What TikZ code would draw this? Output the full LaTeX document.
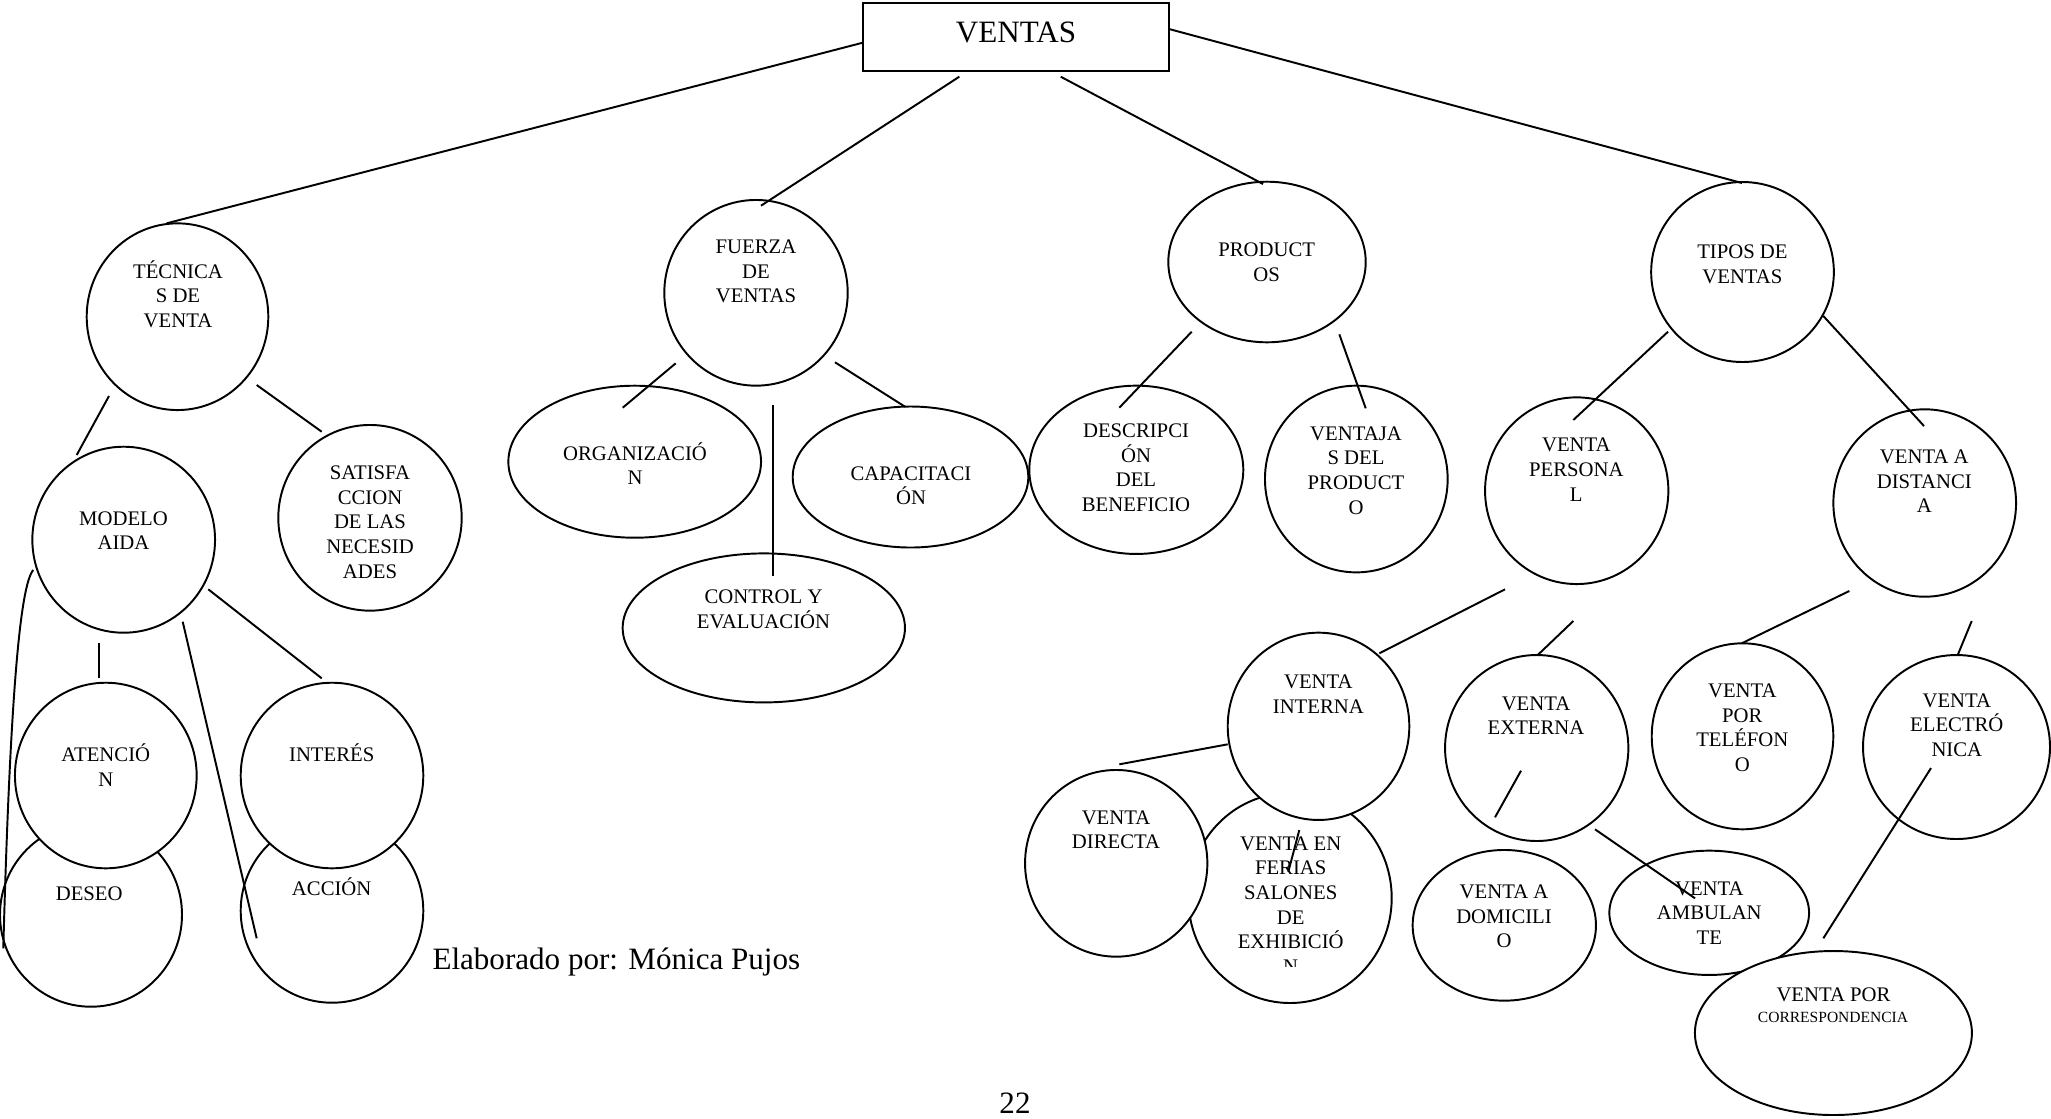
\documentclass[tikz,border=0pt]{standalone}
\usepackage{fontspec}
\setmainfont{Liberation Serif}
\usetikzlibrary{shapes.geometric}
\def\px{0.38615pt}
\newcommand\lns[1]{\vtop{\baselineskip=9.54pt\lineskiplimit=-\maxdimen\halign{\hfil##\hfil\cr#1\crcr}}}
\newcommand\shp[5]{\node[bub, minimum width=#4*\px, minimum height=#5*\px] (#1) at (#2,#3) {};}
\newcommand\tx[4]{\node[txt, anchor=base] (#1) at (#2,#3) {\lns{#4}};}
\begin{document}
\begin{tikzpicture}[x=\px, y=-\px,
  bub/.style={draw, ellipse, line width=0.75pt, inner sep=0pt, fill=white},
  txt/.style={inner sep=0pt, font=\fontsize{8}{9.54}\selectfont},
  small/.style={inner sep=0pt, font=\fontsize{6}{7}\selectfont},
  big/.style={inner sep=0pt, font=\fontsize{12}{14}\selectfont},
  link/.style={line width=0.75pt}]
\useasboundingbox (0,0) rectangle (2051,1118);

% ---------- shapes ----------
\node[draw, line width=0.75pt, inner sep=0pt, fill=white, minimum width=306.3*\px, minimum height=67.7*\px] (ventas) at (1015.85,37.15) {};
\shp{tec}{177.5}{316.7}{181.6}{186.7}
\shp{mod}{123.7}{539.7}{182.7}{186}
\shp{sat}{370}{517.8}{183.4}{185.7}
\shp{des}{91}{914.7}{182}{184}
\shp{ate}{105.8}{775.5}{181.7}{185.6}
\shp{acc}{332}{910.7}{182.6}{184}
\shp{intr}{332}{775.5}{182.6}{185.6}
\shp{fue}{756}{292.8}{183.4}{185.7}
\shp{org}{634.7}{461.7}{252.7}{152}
\shp{cap}{910.5}{477}{235.6}{141}
\shp{con}{763.8}{627.9}{282.3}{149}
\shp{pro}{1267}{262}{197.4}{160.6}
\shp{dsc}{1136.3}{469.8}{214}{168.3}
\shp{vja}{1356.3}{479}{182.7}{186.7}
\shp{tip}{1742.5}{272}{182.7}{180}
\shp{per}{1576.7}{490.7}{183.3}{186.7}
\shp{dis}{1924.7}{503}{182.7}{187.4}
\shp{fer}{1290}{898}{203.4}{210}
\shp{dir}{1116.2}{863.3}{182.3}{186.7}
\shp{itn}{1318.5}{726.3}{181.6}{187.3}
\shp{ext}{1536.7}{748}{183.3}{186}
\shp{tel}{1742.5}{736.3}{181.6}{186}
\shp{ele}{1956.5}{747}{187}{184}
\shp{dom}{1504.3}{925.3}{183.3}{150.7}
\shp{amb}{1709.2}{912.8}{199.7}{124.3}
\shp{cor}{1833.4}{1033}{277}{164}

% ---------- texts ----------
\node[big, anchor=base] (ventasT) at (1016,42.7) {VENTAS};
\tx{tecT}{178}{278}{TÉCNICA\cr S DE\cr VENTA}
\tx{modT}{123.5}{525}{MODELO\cr AIDA}
\tx{satT}{370}{479.3}{SATISFA\cr CCION\cr DE LAS\cr NECESID\cr ADES}
\tx{ateT}{105.8}{761.7}{ATENCIÓ\cr N}
\tx{desT}{89.2}{900}{DESEO}
\tx{intrT}{331.7}{761.7}{INTERÉS}
\tx{accT}{331.7}{895}{ACCIÓN}
\tx{fueT}{756}{253.3}{FUERZA\cr DE\cr VENTAS}
\tx{orgT}{635}{460}{ORGANIZACIÓ\cr N}
\tx{capT}{911}{480}{CAPACITACI\cr ÓN}
\tx{conT}{763.5}{603.3}{CONTROL Y\cr EVALUACIÓN}
\tx{proT}{1266.7}{256.7}{PRODUCT\cr OS}
\tx{dscT}{1136}{437.3}{DESCRIPCI\cr ÓN\cr DEL\cr BENEFICIO}
\tx{vjaT}{1356}{440}{VENTAJA\cr S DEL\cr PRODUCT\cr O}
\tx{tipT}{1742.4}{258.3}{TIPOS DE\cr VENTAS}
\tx{perT}{1576.3}{451.7}{VENTA\cr PERSONA\cr L}
\tx{disT}{1924.3}{463.3}{VENTA A\cr DISTANCI\cr A}
\tx{itnT}{1318.3}{688.3}{VENTA\cr INTERNA}
\tx{extT}{1536}{710}{VENTA\cr EXTERNA}
\tx{telT}{1742.3}{697.3}{VENTA\cr POR\cr TELÉFON\cr O}
\tx{eleT}{1956.8}{707}{VENTA\cr ELECTRÓ\cr NICA}
\tx{domT}{1504}{898.3}{VENTA A\cr DOMICILI\cr O}
\tx{ambT}{1709.3}{895}{VENTA\cr AMBULAN\cr TE}
\tx{dirT}{1116}{824}{VENTA\cr DIRECTA}
\tx{ferT}{1290.7}{850}{VENTA EN\cr FERIAS\cr SALONES\cr DE\cr EXHIBICIÓ}
\begin{scope}
  \clip (1260,955) rectangle (1320,966);
  \node[txt, anchor=base] (ferN) at (1290.7,973.5) {N};
\end{scope}
\node[txt, anchor=base] (corT) at (1833.5,1001.7) {VENTA POR};
\node[small, anchor=base] (corS) at (1833,1022) {CORRESPONDENCIA};
\node[big, anchor=base west] (elab) at (432,969) {Elaborado por: Mónica Pujos};
\node[big, anchor=base] (pag) at (1015,1113) {22};

% ---------- connector ends ----------
\coordinate (v1) at (862.7,42.7);   \coordinate (t1) at (166.7,223.3);
\coordinate (v2) at (959.3,76.7);   \coordinate (f1) at (761,205.7);
\coordinate (v3) at (1060.7,76.7);  \coordinate (p1) at (1263,184);
\coordinate (v4) at (1169,29);      \coordinate (ti1) at (1742,183);
\coordinate (t2) at (109,396);      \coordinate (m1) at (76.7,455);
\coordinate (t3) at (256.7,385);    \coordinate (s1) at (321.7,431.7);
\coordinate (m2) at (99,643.3);     \coordinate (a1) at (99,678.3);
\coordinate (m3) at (182.7,621.7);  \coordinate (ac1) at (256.7,938.3);
\coordinate (m4) at (208.3,589.3);  \coordinate (i1) at (321.7,678.3);
\coordinate (m5) at (33.3,570);     \coordinate (d1) at (3.3,948.3);
\coordinate (f2) at (675.7,363.3);  \coordinate (o1) at (622.7,407.7);
\coordinate (f3) at (773.3,405);    \coordinate (c1) at (773.3,576);
\coordinate (f4) at (835,362.3);    \coordinate (ca1) at (905,406.7);
\coordinate (p2) at (1191.7,331.7); \coordinate (ds1) at (1119.3,407.7);
\coordinate (p3) at (1339.3,334.3); \coordinate (vj1) at (1365.7,408.3);
\coordinate (ti2) at (1668,331.7);  \coordinate (pe1) at (1573.3,420);
\coordinate (ti3) at (1823.3,316);  \coordinate (di1) at (1924,426);
\coordinate (pe2) at (1505,589.3);  \coordinate (in1) at (1379.3,653.3);
\coordinate (pe3) at (1573.3,621);  \coordinate (ex1) at (1537.7,655);
\coordinate (di2) at (1849.3,591);  \coordinate (te1) at (1741.7,643.3);
\coordinate (di3) at (1971.7,621);  \coordinate (el1) at (1957.7,655);
\coordinate (in2) at (1227.7,744.3);\coordinate (dr1) at (1119.3,764.3);
\coordinate (in3) at (1299.3,830);  \coordinate (fe1) at (1288.3,871.7);
\coordinate (ex2) at (1521,770.7);  \coordinate (do1) at (1495,817.3);
\coordinate (ex3) at (1595,829.3);  \coordinate (am1) at (1695,898.3);
\coordinate (el2) at (1931,768);    \coordinate (co1) at (1823.3,938.3);

% ---------- connectors ----------
\draw[link] (v1) -- (t1);
\draw[link] (v2) -- (f1);
\draw[link] (v3) -- (p1);
\draw[link] (v4) -- (ti1);
\draw[link] (t2) -- (m1);
\draw[link] (t3) -- (s1);
\draw[link] (m2) -- (a1);
\draw[link] (m3) -- (ac1);
\draw[link] (m4) -- (i1);
\draw[link] (m5) .. controls (20,585) and (10,700) .. (d1);
\draw[link] (f2) -- (o1);
\draw[link] (f3) -- (c1);
\draw[link] (f4) -- (ca1);
\draw[link] (p2) -- (ds1);
\draw[link] (p3) -- (vj1);
\draw[link] (ti2) -- (pe1);
\draw[link] (ti3) -- (di1);
\draw[link] (pe2) -- (in1);
\draw[link] (pe3) -- (ex1);
\draw[link] (di2) -- (te1);
\draw[link] (di3) -- (el1);
\draw[link] (in2) -- (dr1);
\draw[link] (in3) -- (fe1);
\draw[link] (ex2) -- (do1);
\draw[link] (ex3) -- (am1);
\draw[link] (el2) -- (co1);
\end{tikzpicture}
\end{document}
